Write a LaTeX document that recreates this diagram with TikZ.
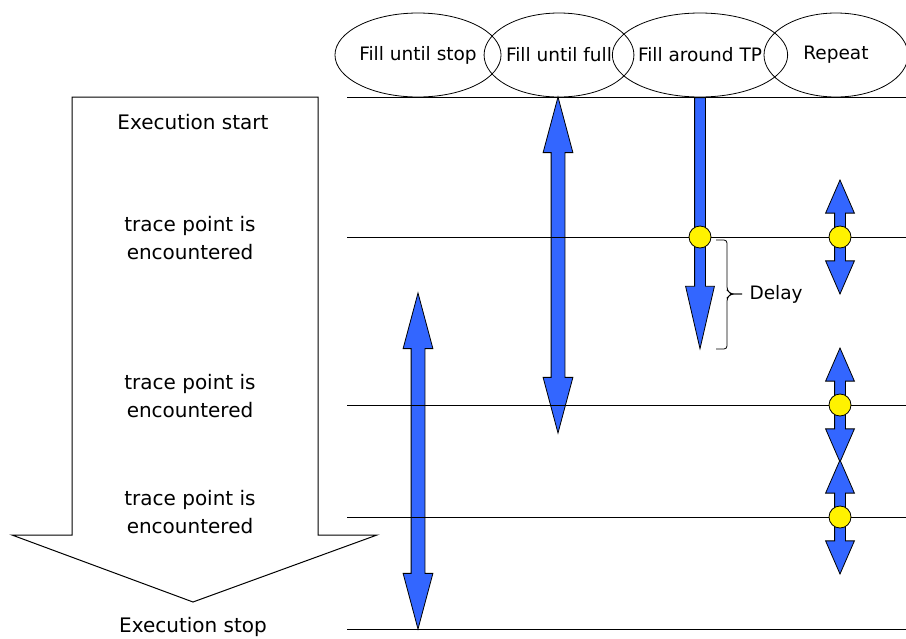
\documentclass[tikz,border=0pt]{standalone}
\usepackage{fontspec}
\setmainfont{DejaVu Sans}
\usetikzlibrary{shapes.geometric,shapes.arrows}
\definecolor{bufblue}{RGB}{51,102,255}
\tikzset{
  phase/.style={ellipse, draw, line width=0.8pt, minimum width=144pt, minimum height=84pt, inner sep=0pt, font=\fontsize{18.5}{22}\selectfont},
  steplabel/.style={align=center, font=\fontsize{20}{28}\selectfont},
  timeline/.style={line width=1pt},
  longarrow/.style={double arrow, draw, fill=bufblue, line width=0.8pt, inner xsep=0pt, inner ysep=6.5pt, double arrow head extend=8pt, double arrow tip angle=30, minimum height=336pt, rotate=90},
  tparrow/.style={single arrow, draw, fill=bufblue, line width=0.8pt, inner xsep=0pt, inner ysep=5pt, single arrow head extend=9pt, single arrow tip angle=26, minimum height=251pt, rotate=-90},
  reparrow/.style={double arrow, draw, fill=bufblue, line width=0.8pt, inner xsep=0pt, inner ysep=5pt, double arrow head extend=9pt, double arrow tip angle=47, minimum height=114pt, rotate=90},
  tpoint/.style={circle, draw, fill=yellow, line width=0.8pt, minimum size=22pt, inner sep=0pt}
}
\begin{document}
\begin{tikzpicture}[x=1pt, y=-1pt]
\useasboundingbox (0,0) rectangle (906,638);
% Draw the execution flow arrow
\draw[line width=1pt] (72,97) -- (318,97) -- (318,535) -- (377,535) -- (193,602) -- (12,535) -- (72,535) -- cycle;
% Labels inside the flow arrow
\node[steplabel] (start) at (193,122) {Execution start};
\node[steplabel] (hit1) at (190,238) {trace point is\\encountered};
\node[steplabel] (hit2) at (190,396) {trace point is\\encountered};
\node[steplabel] (hit3) at (190,512) {trace point is\\encountered};
\node[steplabel] (stop) at (193,627) {Execution stop};
% Mode headers
\node[phase] (untilstop) at (418,55) {Fill until stop};
\node[phase] (untilfull) at (559,55) {Fill until full};
\node[phase] (aroundtp) at (700,55) {Fill around TP};
\node[phase] (repeat) at (836,55) {Repeat};
% Blue trace buffers
\node[longarrow] (stopbuf) at (418,461) {};
\node[longarrow] (fullbuf) at (558,265) {};
\node[tparrow] (tpbuf) at (700,211.5) {};
\foreach \y/\n in {237/a,405/b,517/c}
  \node[reparrow] (rep\n) at (840,\y) {};
% Time lines
\foreach \y/\n in {97/0,237/1,405/2,517/3,629/4} {
  \coordinate (t\n) at (347,\y);
  \draw[timeline] (t\n) -- ++(559,0);
}
% Trace point markers
\node[tpoint] (mark0) at (700,237) {};
\foreach \n in {a,b,c}
  \node[tpoint] (mark\n) at (rep\n.center) {};
% Delay brace
\coordinate (delaytop) at (716,240);
\coordinate (delaybot) at (716,349);
\coordinate (delaytip) at (742,294);
\draw[line width=0.8pt, rounded corners=3pt] (delaytop) -- (727,240) -- (727,290) -- (731,294) -- (delaytip);
\draw[line width=0.8pt, rounded corners=3pt] (delaytip) -- (731,294) -- (727,298) -- (727,349) -- (delaybot);
\node[anchor=west, font=\fontsize{18.5}{22}\selectfont] (delay) at (746,294) {Delay};
\end{tikzpicture}
\end{document}
